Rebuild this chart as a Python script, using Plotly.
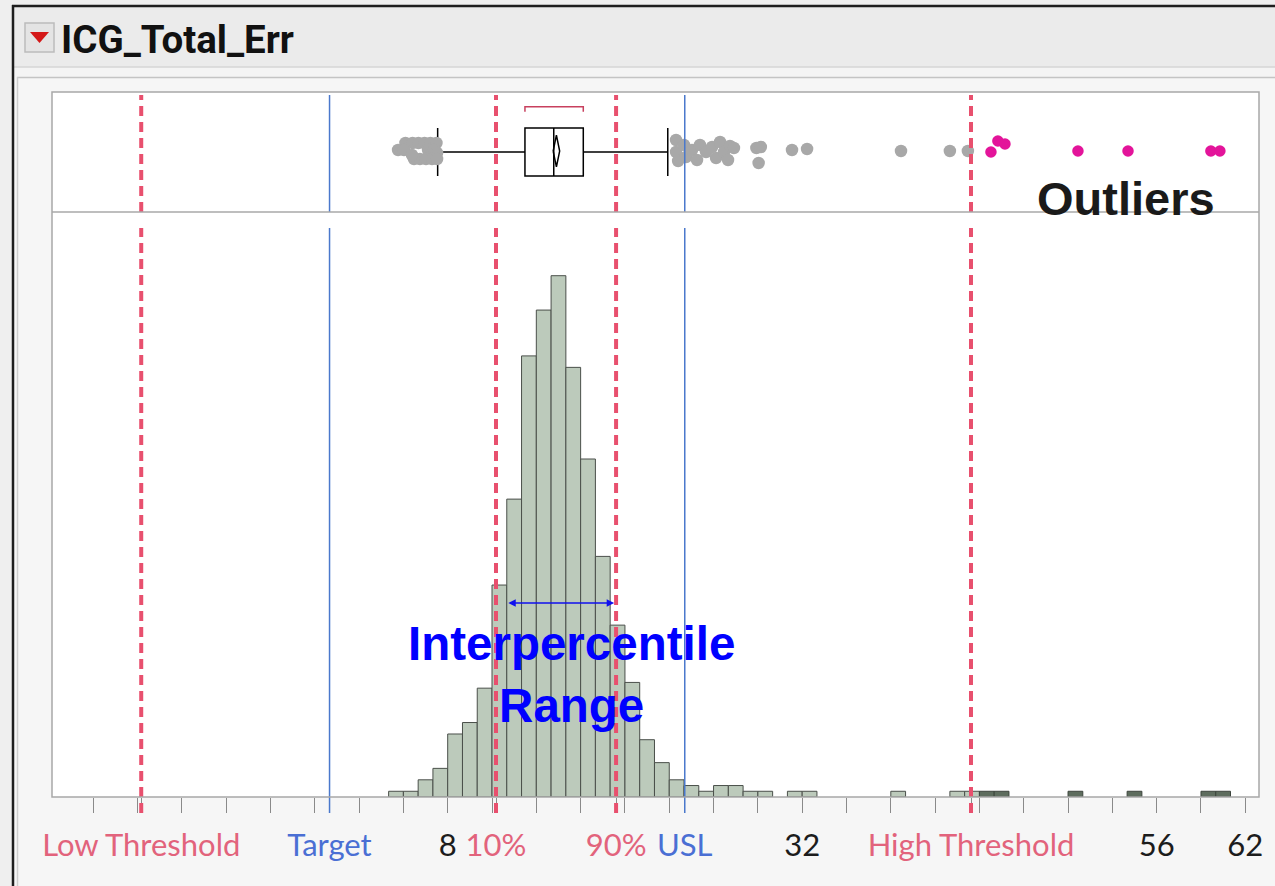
import plotly.graph_objects as go

# ---------------- data ----------------
bin_left = [4, 5, 6, 7, 8, 9, 10, 11, 12, 13, 14, 15, 16, 17, 18, 19, 20, 21, 22,
            23, 24, 25, 26, 27, 28, 29, 31, 32, 38, 42, 43]
bin_count = [1, 1, 3, 5, 11, 13, 19, 37, 52, 77, 85, 91, 75, 59, 42, 30, 20, 10, 6,
             3, 2, 1, 2, 2, 1, 1, 1, 1, 1, 1, 1]
outlier_bin_left = [44, 45, 50, 54, 59, 60]
outlier_bin_count = [1, 1, 1, 1, 1, 1]

# box plot statistics
q1, median, q3 = 13.23, 15.18, 17.18
lower_whisker, upper_whisker = 7.32, 22.9
mean_value, mean_ci = 15.36, 0.22
shortest_half = [13.23, 17.18]

# points beyond the whiskers (value, vertical jitter in box-panel units 0..1)
gray_x = [5.14, 5.62, 6.02, 6.43, 6.83, 7.24, 4.64, 5.04, 6.67, 7.07, 7.28,
          5.72, 6.12, 6.53, 6.94, 7.28, 5.58,
          23.46, 23.46, 23.6, 24.0, 24.14, 24.54, 24.88, 25.08, 25.49, 25.9, 26.17,
          26.44, 26.71, 26.98, 27.11, 27.38,
          28.9, 29.2, 29.05, 31.31, 32.33, 38.69, 42.0, 43.22]
gray_jitter = [0.575, 0.575, 0.575, 0.575, 0.575, 0.575, 0.517, 0.517, 0.517, 0.517, 0.492,
               0.442, 0.442, 0.442, 0.442, 0.442, 0.475,
               0.600, 0.500, 0.425, 0.558, 0.458, 0.517, 0.433, 0.558, 0.500, 0.542, 0.450,
               0.583, 0.500, 0.433, 0.550, 0.533,
               0.533, 0.542, 0.408, 0.517, 0.525, 0.508, 0.508, 0.508]
outlier_x = [44.78, 45.25, 45.73, 50.67, 54.06, 59.67, 60.28]
outlier_jitter = [0.500, 0.592, 0.567, 0.508, 0.508, 0.508, 0.508]

# reference lines and axis labels
low_threshold, target, p10, p90, usl, high_threshold = -12.75, 0.0, 11.27, 19.4, 24.05, 43.43
tick_marks = list(range(-16, 63, 3))
label_vals = [low_threshold, target, 8, p10, p90, usl, 32, high_threshold, 56, 62]
label_text = ["Low Threshold", "Target", "8", "10%", "90%", "USL", "32",
              "High Threshold", "56", "62"]
label_kind = ["red", "blue", "num", "red", "red", "blue", "num", "red", "num", "num"]
ipr_arrow = [12.0, 19.27]

# ---------------- styling ----------------
W, H = 1275, 886
L, R, T, B = 52, 1259, 92, 797
RED = "#e8506e"
RED_TXT = "#e2637c"
BLUE = "#4a78cc"
BLUE_TXT = "#4a6fd4"
SEP = 212


def px(x):
    return (x - L) / (R - L)


def py(y):
    return (B - y) / (B - T)


box_dom0 = py(SEP)
x_range = [8 + (L - 447.7) / 14.77, 8 + (R - 447.7) / 14.77]
count_per_px = 91 / (B - 275.7)
y_hist_max = (B - SEP) * count_per_px

fig = go.Figure()

# histogram
fig.add_trace(go.Bar(
    x=[b + 0.5 for b in bin_left], y=bin_count, width=1.0,
    marker=dict(color="#bccabb", line=dict(color="#4a4f4a", width=1)),
    xaxis="x", yaxis="y", hoverinfo="skip", showlegend=False))
fig.add_trace(go.Bar(
    x=[b + 0.5 for b in outlier_bin_left], y=outlier_bin_count, width=1.0,
    marker=dict(color="#5e6d5e", line=dict(color="#3c443c", width=1)),
    xaxis="x", yaxis="y", hoverinfo="skip", showlegend=False))

# box plot
fig.add_trace(go.Box(
    y=[0.5], q1=[q1], median=[median], q3=[q3],
    lowerfence=[lower_whisker], upperfence=[upper_whisker],
    orientation="h", width=0.4, whiskerwidth=1,
    fillcolor="white", line=dict(color="black", width=1.5),
    boxpoints=False, xaxis="x", yaxis="y2", hoverinfo="skip", showlegend=False))

# mean diamond
fig.add_trace(go.Scatter(
    x=[mean_value - mean_ci, mean_value, mean_value + mean_ci, mean_value, mean_value - mean_ci],
    y=[0.508, 0.64, 0.508, 0.376, 0.508], mode="lines",
    line=dict(color="black", width=1.5), xaxis="x", yaxis="y2",
    hoverinfo="skip", showlegend=False))

# shortest half bracket
fig.add_trace(go.Scatter(
    x=[shortest_half[0], shortest_half[0], shortest_half[1], shortest_half[1]],
    y=[0.835, 0.878, 0.878, 0.835], mode="lines",
    line=dict(color="#c8405e", width=1.5), xaxis="x", yaxis="y2",
    hoverinfo="skip", showlegend=False))

# points
fig.add_trace(go.Scatter(
    x=gray_x, y=gray_jitter, mode="markers",
    marker=dict(color="#a8a8a8", size=12.5), xaxis="x", yaxis="y2",
    hoverinfo="skip", showlegend=False))
fig.add_trace(go.Scatter(
    x=outlier_x, y=outlier_jitter, mode="markers",
    marker=dict(color="#e3149a", size=11.5), xaxis="x", yaxis="y2",
    hoverinfo="skip", showlegend=False))

shapes = []
# frame decorations
shapes.append(dict(type="rect", xref="paper", yref="paper", x0=px(0), x1=px(W), y0=py(0), y1=py(6),
                   fillcolor="#efefef", line=dict(width=0), layer="below"))
shapes.append(dict(type="rect", xref="paper", yref="paper", x0=px(0), x1=px(13), y0=py(0), y1=py(H),
                   fillcolor="#efefef", line=dict(width=0), layer="below"))
shapes.append(dict(type="rect", xref="paper", yref="paper", x0=px(13), x1=px(W), y0=py(6), y1=py(67),
                   fillcolor="#ebebeb", line=dict(width=0), layer="below"))
shapes.append(dict(type="rect", xref="paper", yref="paper", x0=px(13), x1=px(W), y0=py(67), y1=py(77),
                   fillcolor="#f4f4f4", line=dict(width=0), layer="below"))
shapes.append(dict(type="line", xref="paper", yref="paper", x0=px(13), x1=px(W), y0=py(67), y1=py(67),
                   line=dict(color="#d6d6d6", width=1.5), layer="below"))
shapes.append(dict(type="line", xref="paper", yref="paper", x0=px(17), x1=px(W), y0=py(77.5), y1=py(77.5),
                   line=dict(color="#c4c4c4", width=1.5), layer="below"))
shapes.append(dict(type="line", xref="paper", yref="paper", x0=px(17.5), x1=px(17.5), y0=py(77), y1=py(H),
                   line=dict(color="#cdcdcd", width=1.5), layer="below"))
shapes.append(dict(type="line", xref="paper", yref="paper", x0=px(12), x1=px(W), y0=py(6), y1=py(6),
                   line=dict(color="#1e1e1e", width=2.5), layer="below"))
shapes.append(dict(type="line", xref="paper", yref="paper", x0=px(13), x1=px(13), y0=py(5), y1=py(H),
                   line=dict(color="#1e1e1e", width=2.5), layer="below"))
# red triangle button
shapes.append(dict(type="rect", xref="paper", yref="paper", x0=px(25), x1=px(54), y0=py(23), y1=py(52),
                   fillcolor="#e4e4e4", line=dict(color="#bcbcbc", width=1.5), layer="below"))
shapes.append(dict(type="path", xref="paper", yref="paper",
                   path=f"M {px(30)} {py(32)} L {px(49)} {py(32)} L {px(39.5)} {py(43)} Z",
                   fillcolor="#d41818", line=dict(width=0), layer="below"))

# reference lines: box panel and histogram panel segments
for val, color, dashed in [(low_threshold, RED, True), (target, BLUE, False), (p10, RED, True),
                           (p90, RED, True), (usl, BLUE, False), (high_threshold, RED, True)]:
    ln = dict(color=color, width=4 if dashed else 1.5)
    if dashed:
        ln["dash"] = "10px,6px"
    shapes.append(dict(type="line", xref="x", yref="paper", x0=val, x1=val,
                       y0=py(SEP), y1=py(95), line=ln, layer="above"))
    shapes.append(dict(type="line", xref="x", yref="paper", x0=val, x1=val,
                       y0=py(813), y1=py(228), line=ln, layer="above"))

# plot border and separator
shapes.append(dict(type="rect", xref="paper", yref="paper", x0=0, x1=1, y0=0, y1=1,
                   line=dict(color="#a8a8a8", width=1.5), layer="above"))
shapes.append(dict(type="line", xref="paper", yref="paper", x0=0, x1=1, y0=box_dom0, y1=box_dom0,
                   line=dict(color="#a8a8a8", width=1.5), layer="above"))

colors = {"red": RED_TXT, "blue": BLUE_TXT, "num": "#1c1c1c"}
ticktext = [f'<span style="color:{colors[k]}">{t}</span>' for t, k in zip(label_text, label_kind)]

annotations = [
    dict(text="<b>ICG_Total_Err</b>", xref="paper", yref="paper", x=px(59), y=py(39),
         xanchor="left", yanchor="middle", showarrow=False,
         font=dict(family="Roboto", size=38.5, color="#111111")),
    dict(text="<b>Outliers</b>", xref="x", yref="y2", x=53.94, y=(SEP - 198) / (SEP - T),
         xanchor="center", yanchor="middle", showarrow=False,
         font=dict(family="Liberation Sans", size=47, color="#1a1a1a")),
    dict(text="<b>Interpercentile<br>Range</b>", xref="x", yref="y", x=16.37,
         y=(B - 674) * count_per_px, xanchor="center", yanchor="middle", showarrow=False,
         font=dict(family="Liberation Sans", size=47.5, color="#0000ff")),
    dict(text="", xref="x", yref="y", axref="x", ayref="y",
         x=ipr_arrow[1], y=(B - 603) * count_per_px,
         ax=ipr_arrow[0], ay=(B - 603) * count_per_px,
         showarrow=True, arrowhead=2, startarrowhead=2, arrowside="end+start",
         arrowsize=1, startarrowsize=1, arrowwidth=1.5, arrowcolor="#1010ee"),
]

fig.update_layout(
    width=W, height=H, autosize=False,
    margin=dict(l=L, r=W - R, t=T, b=H - B, pad=0),
    paper_bgcolor="#f6f6f6", plot_bgcolor="white",
    showlegend=False, barmode="overlay",
    xaxis=dict(range=x_range, showgrid=False, zeroline=False, showline=False,
               anchor="y", tickmode="array", tickvals=label_vals, ticktext=ticktext,
               ticks="outside", ticklen=15, tickwidth=1, tickcolor="#8a8a8a",
               tickangle=0, ticklabelstandoff=6,
               tickfont=dict(family="Lato", size=31, color="#1c1c1c"),
               minor=dict(tickmode="array", tickvals=tick_marks, ticks="outside",
                          ticklen=15, tickwidth=1, tickcolor="#8a8a8a", showgrid=False)),
    yaxis=dict(domain=[0, box_dom0], range=[0, y_hist_max], visible=False, fixedrange=True),
    yaxis2=dict(domain=[box_dom0, 1], range=[0, 1], visible=False, fixedrange=True),
    shapes=shapes, annotations=annotations,
)

fig.write_html("out.html", config={"displayModeBar": False})
